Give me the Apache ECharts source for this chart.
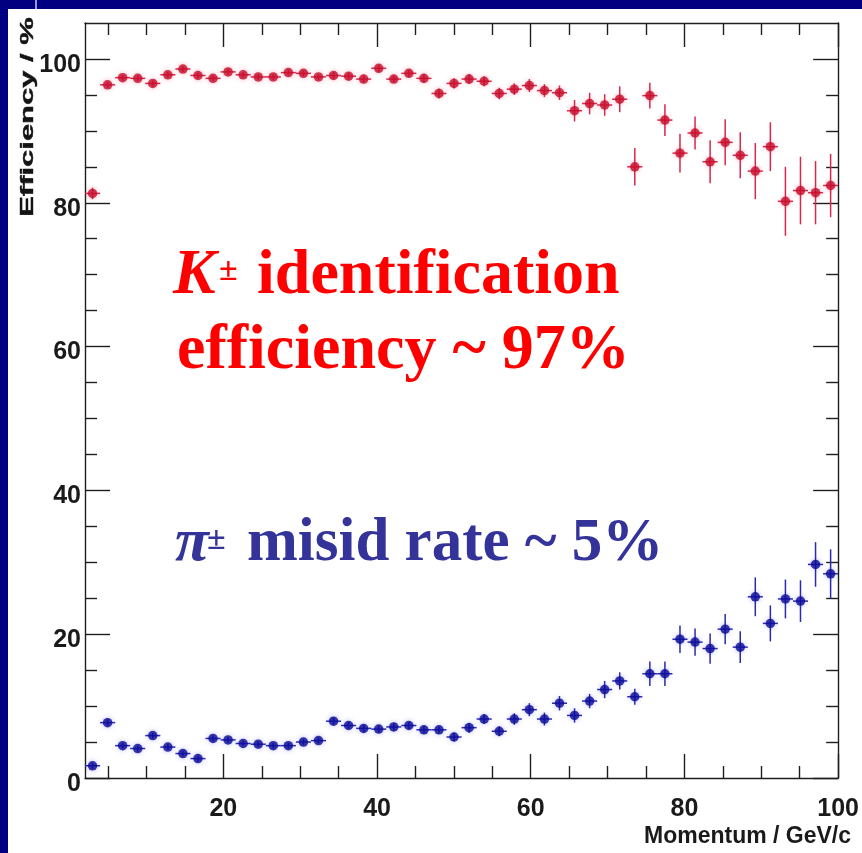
<!DOCTYPE html>
<html>
<head>
<meta charset="utf-8">
<script src="https://cdn.jsdelivr.net/npm/echarts@6/dist/echarts.min.js"></script>
<style>
html,body{margin:0;padding:0;background:#000080;}
#chart{width:862px;height:853px;}
</style>
</head>
<body>
<div id="chart"></div>
<script>
// ---- data ----
const momentum = [2.98, 4.94, 6.90, 8.86, 10.82, 12.78, 14.74, 16.70, 18.66, 20.62,
  22.58, 24.54, 26.50, 28.46, 30.42, 32.38, 34.34, 36.30, 38.26, 40.22,
  42.18, 44.14, 46.10, 48.06, 50.02, 51.98, 53.94, 55.90, 57.86, 59.82,
  61.78, 63.74, 65.70, 67.66, 69.62, 71.58, 73.54, 75.50, 77.46, 79.42,
  81.38, 83.34, 85.30, 87.26, 89.22, 91.18, 93.14, 95.10, 97.06, 99.02];
const binHalfWidth = 0.98;
const kaonEff = [81.3, 96.4, 97.4, 97.3, 96.6, 97.8, 98.6, 97.7, 97.3, 98.2,
  97.8, 97.5, 97.5, 98.1, 98.0, 97.5, 97.7, 97.6, 97.2, 98.7,
  97.2, 98.0, 97.3, 95.2, 96.6, 97.2, 96.9, 95.2, 95.8, 96.3,
  95.6, 95.3, 92.8, 93.8, 93.6, 94.4, 85.0, 94.9, 91.5, 86.9,
  89.7, 85.7, 88.4, 86.6, 84.4, 87.8, 80.2, 81.7, 81.4, 82.4];
const kaonErr = [0.8, 0.4, 0.4, 0.4, 0.4, 0.4, 0.4, 0.4, 0.4, 0.4,
  0.4, 0.4, 0.4, 0.4, 0.4, 0.4, 0.5, 0.5, 0.5, 0.5,
  0.5, 0.5, 0.6, 0.7, 0.7, 0.7, 0.7, 0.8, 0.8, 0.9,
  0.9, 1.0, 1.5, 1.5, 1.5, 1.8, 2.6, 1.8, 2.2, 2.7,
  2.3, 3.0, 3.2, 3.2, 3.9, 3.4, 4.8, 4.7, 4.4, 4.4];
const pionMisid = [1.7, 7.7, 4.5, 4.1, 5.9, 4.3, 3.4, 2.7, 5.5, 5.3,
  4.8, 4.7, 4.5, 4.5, 5.0, 5.2, 7.9, 7.3, 6.9, 6.8,
  7.1, 7.3, 6.7, 6.7, 5.7, 7.0, 8.2, 6.5, 8.2, 9.5,
  8.2, 10.4, 8.7, 10.7, 12.3, 13.5, 11.3, 14.5, 14.5, 19.3,
  18.9, 18.0, 20.7, 18.2, 25.2, 21.5, 24.9, 24.6, 29.7, 28.4];
const pionErr = [0.4, 0.5, 0.4, 0.4, 0.4, 0.4, 0.4, 0.4, 0.4, 0.4,
  0.4, 0.4, 0.4, 0.4, 0.4, 0.4, 0.5, 0.5, 0.5, 0.5,
  0.5, 0.5, 0.5, 0.5, 0.6, 0.7, 0.7, 0.7, 0.8, 0.9,
  0.9, 1.0, 1.0, 1.0, 1.2, 1.2, 1.1, 1.7, 1.7, 1.9,
  1.9, 2.1, 2.1, 2.2, 2.7, 2.5, 2.7, 2.9, 3.1, 3.4];
const xMajorTicks = [20, 40, 60, 80, 100];
const xMinorTicks = [5, 10, 15, 25, 30, 35, 45, 50, 55, 65, 70, 75, 85, 90, 95];
const yMajorTicks = [0, 20, 40, 60, 80, 100];
const yMinorTicks = [5, 10, 15, 25, 30, 35, 45, 50, 55, 65, 70, 75, 85, 90, 95];
const xTitle = 'Momentum / GeV/c';
const yTitle = 'Efficiency / %';

// ---- styling ----
const axisColor = '#1e1e1e';
const labelFont = "'Liberation Sans', Arial, sans-serif";
const serif = "'Liberation Serif', 'Times New Roman', serif";
const red = '#ff0000';
const blue = '#333399';

function xAx(pos, major) {
  return {
    type: 'value', position: pos, min: 2, max: 100,
    axisLine: { show: major, onZero: false, lineStyle: { color: axisColor, width: 1.4 } },
    axisTick: { show: true, inside: true, length: major ? 24 : 12,
      customValues: major ? xMajorTicks : xMinorTicks,
      lineStyle: { color: axisColor, width: 1.4 } },
    axisLabel: (major && pos === 'bottom') ? {
      customValues: xMajorTicks, margin: 19, fontSize: 25, fontWeight: 'bold',
      fontFamily: labelFont, color: '#1a1a1a'
    } : { show: false },
    splitLine: { show: false }
  };
}
function yAx(pos, major) {
  return {
    type: 'value', position: pos, min: 0, max: 105,
    axisLine: { show: major, onZero: false, lineStyle: { color: axisColor, width: 1.4 } },
    axisTick: { show: true, inside: true, length: major ? 25 : 12,
      customValues: major ? yMajorTicks : yMinorTicks,
      lineStyle: { color: axisColor, width: 1.4 } },
    axisLabel: (major && pos === 'left') ? {
      customValues: yMajorTicks, margin: 4, fontSize: 25, fontWeight: 'bold',
      fontFamily: labelFont, color: '#1a1a1a', verticalAlign: 'top', lineHeight: 12
    } : { show: false },
    splitLine: { show: false }
  };
}

function errData(ys, es) {
  return momentum.map((x, i) => [x, ys[i], es[i]]);
}
function errRender(color) {
  return function (params, api) {
    const x = api.value(0), y = api.value(1), e = api.value(2);
    const c = api.coord([x, y]);
    const t = api.coord([x, y + e]);
    const b = api.coord([x, y - e]);
    const l = api.coord([x - binHalfWidth, y]);
    const r = api.coord([x + binHalfWidth, y]);
    const st = { stroke: color, lineWidth: 1.5 };
    return { type: 'group', children: [
      { type: 'line', shape: { x1: c[0], y1: t[1], x2: c[0], y2: b[1] }, style: st },
      { type: 'line', shape: { x1: l[0], y1: c[1], x2: r[0], y2: c[1] }, style: st }
    ] };
  };
}

const chart = echarts.init(document.getElementById('chart'), null, { renderer: 'canvas' });
chart.setOption({
  backgroundColor: '#000080',
  animation: false,
  grid: { left: 85, right: 20, top: 23, bottom: 75, containLabel: false },
  xAxis: [xAx('bottom', true), xAx('bottom', false), xAx('top', true), xAx('top', false)],
  yAxis: [yAx('left', true), yAx('left', false), yAx('right', true), yAx('right', false)],
  series: [
    { type: 'custom', name: 'K err', renderItem: errRender('#d8284c'),
      data: errData(kaonEff, kaonErr), encode: { x: 0, y: 1 }, z: 3 },
    { type: 'scatter', name: 'K efficiency', symbol: 'circle', symbolSize: 9.5,
      itemStyle: { color: '#c40c2c', shadowBlur: 5, shadowColor: 'rgba(255,40,80,0.45)' },
      data: momentum.map((x, i) => [x, kaonEff[i]]), z: 4 },
    { type: 'custom', name: 'pi err', renderItem: errRender('#2a2ab0'),
      data: errData(pionMisid, pionErr), encode: { x: 0, y: 1 }, z: 3 },
    { type: 'scatter', name: 'pi misid', symbol: 'circle', symbolSize: 9.5,
      itemStyle: { color: '#0a0a94', shadowBlur: 5, shadowColor: 'rgba(60,60,255,0.45)' },
      data: momentum.map((x, i) => [x, pionMisid[i]]), z: 4 }
  ],
  graphic: [
    { type: 'rect', z: -100, silent: true, shape: { x: 8, y: 9, width: 854, height: 844 }, style: { fill: '#ffffff' } },
    { type: 'rect', z: -100, silent: true, shape: { x: 35, y: 0, width: 2, height: 9 }, style: { fill: '#9a9ad6' } },
    { type: 'text', x: 28, y: 117, rotation: Math.PI / 2, scaleX: 1.72, z: 10,
      style: { x: 0, y: 0, text: yTitle, font: "bold 18px " + labelFont, fill: '#141414',
        stroke: '#141414', lineWidth: 0.4,
        textAlign: 'center', textVerticalAlign: 'middle' } },
    { type: 'text', z: 10, style: { x: 851, y: 837, text: xTitle, font: "bold 23px " + labelFont,
        fill: '#1a1a1a', textAlign: 'right', textVerticalAlign: 'middle' } },
    { type: 'text', z: 10, style: { x: 173, y: 276, text: 'K', font: "italic bold 64px " + serif,
        fill: red, textAlign: 'left', textVerticalAlign: 'middle' } },
    { type: 'text', z: 10, style: { x: 219, y: 271, text: '±', font: "bold 34px " + serif,
        fill: red, textAlign: 'left', textVerticalAlign: 'middle' } },
    { type: 'text', z: 10, style: { x: 257, y: 276, text: 'identification', font: "bold 64px " + serif,
        fill: red, textAlign: 'left', textVerticalAlign: 'middle' } },
    { type: 'text', z: 10, style: { x: 177, y: 351, text: 'efficiency ~ 97%', font: "bold 64px " + serif,
        fill: red, textAlign: 'left', textVerticalAlign: 'middle' } },
    { type: 'text', z: 10, style: { x: 175, y: 544, text: 'π', font: "italic bold 62px " + serif,
        fill: blue, textAlign: 'left', textVerticalAlign: 'middle' } },
    { type: 'text', z: 10, style: { x: 207, y: 540, text: '±', font: "bold 34px " + serif,
        fill: blue, textAlign: 'left', textVerticalAlign: 'middle' } },
    { type: 'text', z: 10, style: { x: 247, y: 544, text: 'misid rate ~ 5%', font: "bold 61px " + serif,
        fill: blue, textAlign: 'left', textVerticalAlign: 'middle' } }
  ]
});
</script>
</body>
</html>
